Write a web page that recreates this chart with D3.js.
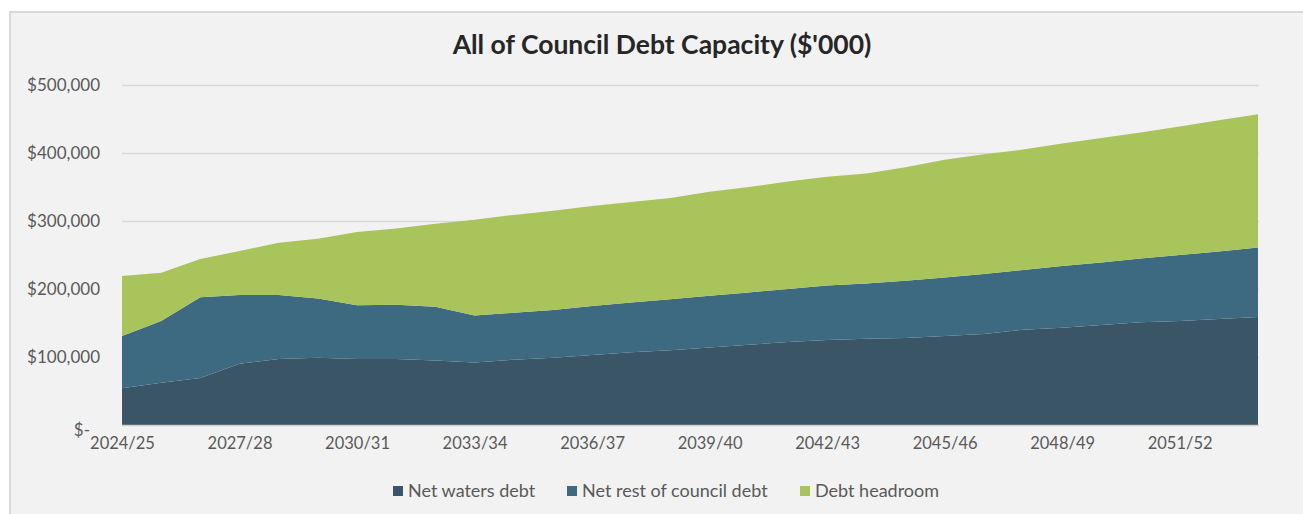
<!DOCTYPE html>
<html>
<head>
<meta charset="utf-8">
<script src="https://cdn.jsdelivr.net/npm/d3@7"></script>
<style>
  html, body { margin: 0; padding: 0; background: #fff; }
  svg { display: block; }
</style>
</head>
<body>
<div id="chart"></div>
<script>
// years on the category axis
const years = ["2024/25","2025/26","2026/27","2027/28","2028/29","2029/30","2030/31","2031/32","2032/33","2033/34",
  "2034/35","2035/36","2036/37","2037/38","2038/39","2039/40","2040/41","2041/42","2042/43","2043/44",
  "2044/45","2045/46","2046/47","2047/48","2048/49","2049/50","2050/51","2051/52","2052/53","2053/54"];

// values in $'000
const netWaters = [54000,62000,69000,90000,97000,99000,97000,97000,95000,92000,
  96000,99000,103000,107000,110000,114000,118000,122000,125000,127000,
  128000,131000,134000,140000,143000,147000,151000,153000,156000,159000];
const netRest = [77000,91000,119000,101000,94000,87000,79000,80000,79000,69000,
  69000,70000,72000,73000,75000,76000,77000,78000,80000,81000,
  84000,86000,88000,88000,91000,92000,94000,97000,99000,102000];
const headroom = [88000,71000,56000,65000,77000,88000,108000,112000,122000,141000,
  144000,146000,147000,148000,149000,153000,155000,158000,160000,162000,
  167000,173000,176000,177000,180000,183000,185000,189000,193000,196000];

const seriesNames = ["Net waters debt", "Net rest of council debt", "Debt headroom"];
const seriesColors = ["#3a5565", "#3d6a80", "#a9c45a"];
const yTicks = [0, 100000, 200000, 300000, 400000, 500000];

const width = 1303, height = 514;
const margin = {top: 85, right: 44, bottom: 89, left: 122};
const font = "Lato, 'Open Sans', sans-serif";

const svg = d3.select("#chart").append("svg")
    .attr("width", width)
    .attr("height", height);

// chart panel
svg.append("rect")
    .attr("x", 10).attr("y", 12)
    .attr("width", width).attr("height", height)
    .attr("fill", "#f2f2f2")
    .attr("stroke", "#d9d9d9")
    .attr("stroke-width", 2);

const x = d3.scalePoint()
    .domain(years)
    .range([margin.left, width - margin.right - 1]);

const y = d3.scaleLinear()
    .domain([0, 500000])
    .range([height - margin.bottom, margin.top]);

const rows = years.map((yr, i) => ({
  year: yr,
  waters: netWaters[i],
  rest: netRest[i],
  headroom: headroom[i]
}));

const stack = d3.stack().keys(["waters", "rest", "headroom"]);
const layers = stack(rows);

// gridlines
svg.append("g")
  .selectAll("line")
  .data(yTicks.slice(1))
  .join("line")
    .attr("x1", margin.left)
    .attr("x2", x(years[years.length - 1]) + 1)
    .attr("y1", d => Math.round(y(d)) + 0.5)
    .attr("y2", d => Math.round(y(d)) + 0.5)
    .attr("stroke", "#d9d9d9")
    .attr("stroke-width", 1.5);

const area = d3.area()
    .x(d => x(d.data.year))
    .y0(d => y(d[0]))
    .y1(d => y(d[1]));

svg.append("g")
  .selectAll("path")
  .data(layers)
  .join("path")
    .attr("fill", (d, i) => seriesColors[i])
    .attr("d", area);

// category axis line
svg.append("line")
    .attr("x1", margin.left)
    .attr("x2", x(years[years.length - 1]) + 1)
    .attr("y1", y(0) + 0.5)
    .attr("y2", y(0) + 0.5)
    .attr("stroke", "#d0d0d0")
    .attr("stroke-width", 1.5);

// y axis labels
const fmt = d3.format(",");
const yAxis = d3.axisLeft(y)
    .tickValues(yTicks)
    .tickSize(0)
    .tickPadding(0)
    .tickFormat(d => d === 0 ? "$-" : "$" + fmt(d));

svg.append("g")
    .attr("transform", `translate(${margin.left - 22},0)`)
    .call(yAxis)
    .call(g => g.select(".domain").remove())
    .call(g => g.selectAll("text")
        .attr("font-family", font)
        .attr("font-size", 17)
        .attr("fill", "#595959")
        .attr("dx", d => d === 0 ? -10 : 0)
        .attr("dy", d => d === 0 ? "0.6em" : "0.32em"));

// x axis labels, every third year
const xAxis = d3.axisBottom(x)
    .tickValues(years.filter((d, i) => i % 3 === 0))
    .tickSize(0)
    .tickPadding(0);

svg.append("g")
    .attr("transform", `translate(0,${y(0) + 19})`)
    .call(xAxis)
    .call(g => g.select(".domain").remove())
    .call(g => g.selectAll("text")
        .attr("font-family", font)
        .attr("font-size", 16.5)
        .attr("fill", "#595959")
        .attr("dy", "0.32em"));

// title
svg.append("text")
    .attr("x", 662)
    .attr("y", 54)
    .attr("text-anchor", "middle")
    .attr("font-family", font)
    .attr("font-weight", "bold")
    .attr("font-size", 26.5)
    .attr("fill", "#262626")
    .text("All of Council Debt Capacity ($'000)");

// legend
const legendX = [393, 567, 800];
const legend = svg.append("g")
  .selectAll("g")
  .data(seriesNames)
  .join("g")
    .attr("transform", (d, i) => `translate(${legendX[i]},491)`);

legend.append("rect")
    .attr("x", 0).attr("y", -5)
    .attr("width", 10).attr("height", 10)
    .attr("fill", (d, i) => seriesColors[i]);

legend.append("text")
    .attr("x", 15)
    .attr("dy", "0.35em")
    .attr("font-family", font)
    .attr("font-size", 18)
    .attr("fill", "#595959")
    .text(d => d);
</script>
</body>
</html>
